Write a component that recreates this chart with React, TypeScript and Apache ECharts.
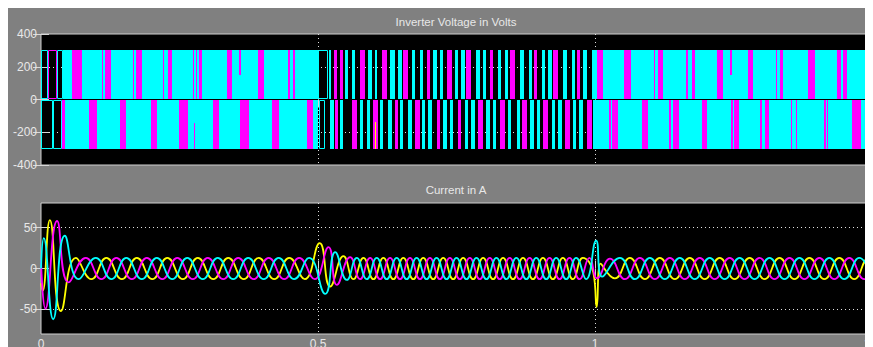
import React, { useEffect, useRef } from 'react';
import * as echarts from 'echarts';

const CYAN = '#00ffff';
const MAGENTA = '#ff00ff';
const YELLOW = '#ffff00';
const PALETTE = [CYAN, MAGENTA, YELLOW];

const topTitle = 'Inverter Voltage in Volts';
const bottomTitle = 'Current in A';

const timeTicks = [0, 0.5, 1, 1.5];
const voltageTicks = [-400, -200, 0, 200, 400];
const currentTicks = [-50, 0, 50];

// ---- Inverter voltage: bands [t0, t1] (optional 3rd value = partial edge in V)
const cyanFillTop = [[0.040, 0.500], [1.000, 1.500]];
const cyanFillBottom = [[0.043, 0.500], [0.996, 1.500]];

const magentaTop = [
  [0.056, 0.074], [0.110, 0.112], [0.116, 0.126], [0.166, 0.168], [0.171, 0.182],
  [0.220, 0.222], [0.229, 0.236], [0.274, 0.276], [0.280, 0.282], [0.285, 0.291],
  [0.336, 0.345], [0.357, 0.361, 150], [0.392, 0.403], [0.446, 0.449], [0.454, 0.458],
  [1.004, 1.014], [1.052, 1.065], [1.106, 1.108], [1.114, 1.123], [1.164, 1.168],
  [1.175, 1.181], [1.220, 1.231], [1.244, 1.247, 150], [1.276, 1.285], [1.327, 1.329],
  [1.334, 1.339], [1.384, 1.397], [1.437, 1.444], [1.448, 1.455], [1.489, 1.495],
];
const magentaBottom = [
  [0.038, 0.043], [0.087, 0.101], [0.143, 0.153], [0.199, 0.209], [0.249, 0.265],
  [0.276, 0.278, -143], [0.310, 0.321], [0.359, 0.375], [0.417, 0.430], [0.480, 0.491],
  [1.025, 1.029], [1.031, 1.042], [1.085, 1.096], [1.134, 1.137], [1.141, 1.152],
  [1.193, 1.202], [1.245, 1.249], [1.251, 1.260], [1.298, 1.301], [1.307, 1.314],
  [1.354, 1.356], [1.363, 1.365], [1.413, 1.417], [1.419, 1.421], [1.464, 1.480],
];

const pulseCyanTop = [
  [0.520, 0.523], [0.549, 0.555], [0.561, 0.567], [0.591, 0.597], [0.603, 0.606],
  [0.630, 0.639], [0.645, 0.651], [0.669, 0.675], [0.684, 0.690], [0.708, 0.714],
  [0.720, 0.726], [0.747, 0.753], [0.759, 0.765], [0.786, 0.792], [0.798, 0.804],
  [0.825, 0.831], [0.838, 0.843], [0.865, 0.871], [0.880, 0.886], [0.904, 0.910],
  [0.916, 0.922], [0.943, 0.949], [0.958, 0.964], [0.979, 0.985], [0.994, 1.000],
];
const pulseMagentaTop = [
  [0.528, 0.534], [0.540, 0.546], [0.576, 0.585], [0.615, 0.624], [0.654, 0.663],
  [0.696, 0.702], [0.732, 0.741], [0.768, 0.777], [0.810, 0.816], [0.847, 0.856],
  [0.889, 0.895], [0.925, 0.934], [0.967, 0.973],
];
const pulseCyanBottom = [
  [0.522, 0.528], [0.540, 0.546], [0.576, 0.582], [0.588, 0.594], [0.612, 0.618],
  [0.627, 0.633], [0.648, 0.654], [0.663, 0.669], [0.687, 0.693], [0.699, 0.705],
  [0.726, 0.732], [0.738, 0.744], [0.765, 0.771], [0.777, 0.783], [0.804, 0.810],
  [0.816, 0.822], [0.843, 0.849], [0.859, 0.865], [0.883, 0.889], [0.895, 0.901],
  [0.922, 0.928], [0.934, 0.940], [0.960, 0.966], [0.972, 0.978],
];
const pulseMagentaBottom = [
  [0.531, 0.537], [0.561, 0.570], [0.600, 0.609], [0.639, 0.645], [0.675, 0.684],
  [0.714, 0.720], [0.753, 0.759], [0.789, 0.798], [0.829, 0.838], [0.868, 0.877],
  [0.907, 0.915], [0.946, 0.955], [0.985, 0.994],
];
const pulseYellowBottom = [[0.602, 0.604, -140]];

const outlineCyanTop = [[0.000, 0.013], [0.029, 0.040], [0.500, 0.518]];
const outlineMagentaTop = [[0.013, 0.029]];
const outlineCyanBottom = [[0.000, 0.021], [0.021, 0.038], [0.502, 0.513]];

// ---- Currents: turning points [t, A]
const currentYellow = [
  [0, -18], [0.003, -27], [0.016, 59], [0.036, -52], [0.063, 13], [0.091, -13],
  [0.118, 13], [0.146, -13], [0.173, 13], [0.201, -13], [0.228, 13], [0.256, -13],
  [0.283, 13], [0.311, -13], [0.338, 13], [0.366, -13], [0.393, 13], [0.421, -13],
  [0.448, 13], [0.476, -13], [0.503, 31], [0.522, -22], [0.546, 15], [0.564, -13],
  [0.582, 13], [0.600, -13], [0.618, 13], [0.636, -13], [0.654, 13], [0.672, -13],
  [0.690, 13], [0.708, -13], [0.726, 13], [0.744, -13], [0.762, 13], [0.780, -13],
  [0.798, 13], [0.816, -13], [0.834, 13], [0.852, -13], [0.870, 13], [0.888, -13],
  [0.906, 13], [0.924, -13], [0.942, 13], [0.960, -13], [0.978, 13], [0.997, -5],
  [1.003, -47], [1.010, 6], [1.036, -12], [1.063, 13], [1.090, -13], [1.117, 13],
  [1.144, -13], [1.171, 13], [1.198, -13], [1.225, 13], [1.252, -13], [1.279, 13],
  [1.306, -13], [1.333, 13], [1.360, -13], [1.387, 13], [1.414, -13], [1.441, 13],
  [1.468, -13], [1.495, 13], [1.5, 12],
];
const currentMagenta = [
  [0, 10], [0.008, -49], [0.029, 58], [0.050, -17], [0.081, 13], [0.109, -13],
  [0.136, 13], [0.164, -13], [0.191, 13], [0.219, -13], [0.246, 13], [0.274, -13],
  [0.301, 13], [0.329, -13], [0.356, 13], [0.384, -13], [0.411, 13], [0.439, -13],
  [0.466, 13], [0.494, -13], [0.519, 26], [0.534, -20], [0.558, 14], [0.576, -13],
  [0.594, 13], [0.612, -13], [0.630, 13], [0.648, -13], [0.666, 13], [0.684, -13],
  [0.702, 13], [0.720, -13], [0.738, 13], [0.756, -13], [0.774, 13], [0.792, -13],
  [0.810, 13], [0.828, -13], [0.846, 13], [0.864, -13], [0.882, 13], [0.900, -13],
  [0.918, 13], [0.936, -13], [0.954, 13], [0.972, -13], [0.990, 13], [1.004, -12],
  [1.027, 12], [1.054, -13], [1.081, 13], [1.108, -13], [1.135, 13], [1.162, -13],
  [1.189, 13], [1.216, -13], [1.243, 13], [1.270, -13], [1.297, 13], [1.324, -13],
  [1.351, 13], [1.378, -13], [1.405, 13], [1.432, -13], [1.459, 13], [1.486, -13],
  [1.5, 1],
];
const currentCyan = [
  [0, 0], [0.005, 37], [0.022, -62], [0.043, 40], [0.068, -13], [0.099, 13],
  [0.127, -13], [0.154, 13], [0.182, -13], [0.209, 13], [0.237, -13], [0.264, 13],
  [0.292, -13], [0.319, 13], [0.347, -13], [0.374, 13], [0.402, -13], [0.429, 13],
  [0.457, -13], [0.484, 13], [0.513, -31], [0.531, 20], [0.552, -14], [0.570, 13],
  [0.588, -13], [0.606, 13], [0.624, -13], [0.642, 13], [0.660, -13], [0.678, 13],
  [0.696, -13], [0.714, 13], [0.732, -13], [0.750, 13], [0.768, -13], [0.786, 13],
  [0.804, -13], [0.822, 13], [0.840, -13], [0.858, 13], [0.876, -13], [0.894, 13],
  [0.912, -13], [0.930, 13], [0.948, -13], [0.966, 13], [0.984, -13], [1.002, 34],
  [1.013, -10], [1.045, 13], [1.072, -13], [1.099, 13], [1.126, -13], [1.153, 13],
  [1.180, -13], [1.207, 13], [1.234, -13], [1.261, 13], [1.288, -13], [1.315, 13],
  [1.342, -13], [1.369, 13], [1.396, -13], [1.423, 13], [1.450, -13], [1.477, 13],
  [1.5, -12],
];

const TEXT = '#e8e8e8';
const FONT = 'Liberation Sans, Arial, sans-serif';
const CHART_W = 865;
const CHART_H = 339;

function bands(list: number[][], half: 'top' | 'bottom', colorIdx: number, outline = 0) {
  return list.map((b) => {
    const edge = b.length > 2 ? b[2] : undefined;
    return half === 'top'
      ? [b[0], b[1], edge ?? 6, 300, colorIdx, outline]
      : [b[0], b[1], -300, edge ?? -6, colorIdx, outline];
  });
}

export default function App() {
  const ref = useRef<HTMLDivElement>(null);
  useEffect(() => {
    if (!ref.current) return;
    document.documentElement.style.overflow = 'hidden';
    document.body.style.overflow = 'hidden';
    const chart = echarts.init(ref.current, undefined, {
      renderer: 'svg',
      width: CHART_W,
      height: CHART_H,
    });

    const rectData = [
      ...bands(cyanFillTop, 'top', 0),
      ...bands(cyanFillBottom, 'bottom', 0),
      ...bands(magentaTop, 'top', 1),
      ...bands(magentaBottom, 'bottom', 1),
      ...bands(pulseCyanTop, 'top', 0),
      ...bands(pulseMagentaTop, 'top', 1),
      ...bands(pulseCyanBottom, 'bottom', 0),
      ...bands(pulseMagentaBottom, 'bottom', 1),
      ...bands(pulseYellowBottom, 'bottom', 2),
      ...bands(outlineCyanTop, 'top', 0, 1),
      ...bands(outlineMagentaTop, 'top', 1, 1),
      ...bands(outlineCyanBottom, 'bottom', 0, 1),
    ];

    const gridBase = {
      left: 33,
      right: 1,
      height: 131,
      show: true,
      containLabel: false,
      outerBoundsMode: 'none',
      backgroundColor: '#000000',
      borderColor: '#cfcfcf',
      borderWidth: 1,
    };
    const tickStyle = { inside: true, length: 8, lineStyle: { color: '#d8d8d8', width: 1 } };
    const dotted = [1, 3];
    const xBase = (gridIndex: number, position: string, labels: boolean, split: boolean) => ({
      type: 'value',
      gridIndex,
      position,
      min: timeTicks[0],
      max: timeTicks[timeTicks.length - 1],
      interval: timeTicks[1] - timeTicks[0],
      axisLine: { show: false },
      axisTick: tickStyle,
      axisLabel: {
        show: labels,
        showMaxLabel: true,
        showMinLabel: true,
        color: TEXT,
        fontFamily: FONT,
        fontSize: 12,
        margin: 4,
        formatter: (v: number) => String(v),
      },
      splitLine: {
        show: split,
        lineStyle: { color: ['rgba(0,0,0,0)', '#e0e0e0', '#e0e0e0', 'rgba(0,0,0,0)'], type: dotted, width: 1 },
      },
    });

    chart.setOption({
      animation: false,
      backgroundColor: '#808080',
      grid: [
        { ...gridBase, top: 26 },
        { ...gridBase, top: 195 },
      ],
      graphic: [
        {
          type: 'text',
          x: 448,
          y: 14,
          style: {
            text: topTitle,
            fill: TEXT,
            font: `11.5px ${FONT}`,
            textAlign: 'center',
            textVerticalAlign: 'middle',
          },
        },
        {
          type: 'text',
          x: 448,
          y: 182,
          style: {
            text: bottomTitle,
            fill: TEXT,
            font: `11.5px ${FONT}`,
            textAlign: 'center',
            textVerticalAlign: 'middle',
          },
        },
      ],
      xAxis: [
        xBase(0, 'bottom', false, true),
        xBase(0, 'top', false, false),
        xBase(1, 'bottom', true, true),
        xBase(1, 'top', false, false),
      ],
      yAxis: [
        {
          type: 'value',
          gridIndex: 0,
          min: voltageTicks[0],
          max: voltageTicks[voltageTicks.length - 1],
          interval: voltageTicks[1] - voltageTicks[0],
          axisLine: { show: false },
          axisTick: tickStyle,
          axisLabel: { color: TEXT, fontFamily: FONT, fontSize: 12, margin: 4 },
          splitLine: {
            show: true,
            lineStyle: {
              color: ['rgba(0,0,0,0)', '#e0e0e0', 'rgba(0,0,0,0)', '#e0e0e0', 'rgba(0,0,0,0)'],
              type: dotted,
              width: 1,
            },
          },
        },
        {
          type: 'value',
          gridIndex: 0,
          position: 'right',
          min: voltageTicks[0],
          max: voltageTicks[voltageTicks.length - 1],
          interval: voltageTicks[1] - voltageTicks[0],
          axisLine: { show: false },
          axisTick: tickStyle,
          axisLabel: { show: false },
          splitLine: { show: false },
        },
        {
          type: 'value',
          gridIndex: 1,
          min: -80,
          max: 80,
          axisLine: { show: false },
          axisTick: { ...tickStyle, customValues: currentTicks },
          axisLabel: { color: TEXT, fontFamily: FONT, fontSize: 12, margin: 4, customValues: currentTicks },
          splitLine: {
            show: true,
            lineStyle: { color: ['#e0e0e0', 'rgba(0,0,0,0)', '#e0e0e0'], type: dotted, width: 1 },
          },
        },
        {
          type: 'value',
          gridIndex: 1,
          position: 'right',
          min: -80,
          max: 80,
          axisLine: { show: false },
          axisTick: { ...tickStyle, customValues: currentTicks },
          axisLabel: { show: false, customValues: currentTicks },
          splitLine: { show: false },
        },
      ],
      series: [
        {
          type: 'custom',
          xAxisIndex: 0,
          yAxisIndex: 0,
          clip: true,
          encode: { x: [0, 1], y: [2, 3] },
          data: rectData,
          renderItem: (_params: any, api: any) => {
            const a = api.coord([api.value(0), api.value(3)]);
            const b = api.coord([api.value(1), api.value(2)]);
            const color = PALETTE[api.value(4)];
            const outline = api.value(5) === 1;
            const x = Math.round(a[0]);
            const w = Math.max(Math.round(b[0]) - x, 1);
            const y = Math.round(a[1]);
            const h = Math.round(b[1]) - y;
            return {
              type: 'rect',
              shape: outline ? { x: x + 0.5, y: y + 0.5, width: w - 1, height: h - 1 } : { x, y, width: w, height: h },
              style: outline ? { fill: 'none', stroke: color, lineWidth: 1 } : { fill: color },
            };
          },
        },
        ...[
          { data: currentYellow, color: YELLOW },
          { data: currentMagenta, color: MAGENTA },
          { data: currentCyan, color: CYAN },
        ].map((s) => ({
          type: 'line',
          xAxisIndex: 2,
          yAxisIndex: 2,
          data: s.data,
          smooth: 0.5,
          showSymbol: false,
          clip: true,
          lineStyle: { color: s.color, width: 1.8 },
        })),
      ],
    });
    return () => chart.dispose();
  }, []);

  return <div ref={ref} style={{ width: CHART_W, height: CHART_H, overflow: 'hidden' }} />;
}
